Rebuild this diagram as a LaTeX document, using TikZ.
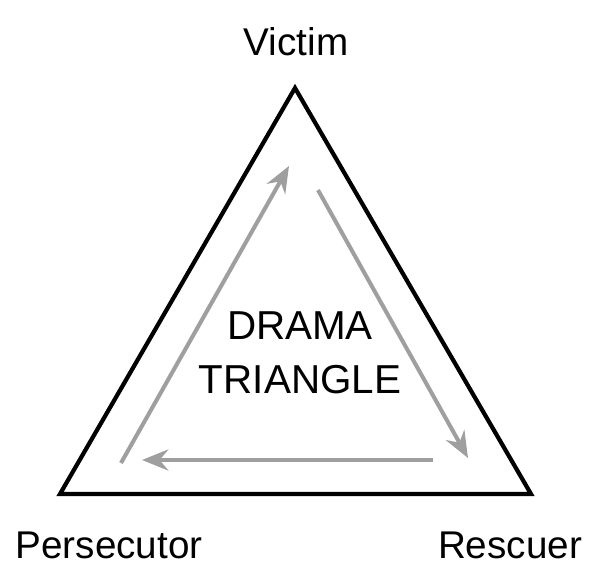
\documentclass[tikz,border=0pt]{standalone}
\usepackage{fontspec}
\setmainfont{Liberation Sans}
\usetikzlibrary{arrows.meta}

\begin{document}
\begin{tikzpicture}[x=0.02cm,y=-0.02cm]
\tikzset{role/.style={font=\fontsize{22}{26}\selectfont},
  flow/.style={gray!75, line width=2.3pt, -{Stealth[length=15pt,width=12pt,inset=5pt]}}}

\useasboundingbox (0,0) rectangle (600,569);

\draw [line width=2.4pt, line join=miter] (295,88) -- (531,494) -- (60,494) -- cycle;

\coordinate (p1) at (121,463);
\coordinate (v1) at (289,166);
\coordinate (v2) at (318,190);
\coordinate (r1) at (468,458);
\coordinate (r2) at (433,460);
\coordinate (p2) at (142,460);

\draw [flow] (p1) -- (v1);
\draw [flow] (v2) -- (r1);
\draw [flow] (r2) -- (p2);

\node [role] (victim) at (296,42) {Victim};
\node [role] (persecutor) at (109,545) {Persecutor};
\node [role] (rescuer) at (510,545) {Rescuer};
\node [role, align=center, font=\fontsize{23}{31}\selectfont] (title) at (300,353) {DRAMA\\TRIANGLE};

\end{tikzpicture}
\end{document}
